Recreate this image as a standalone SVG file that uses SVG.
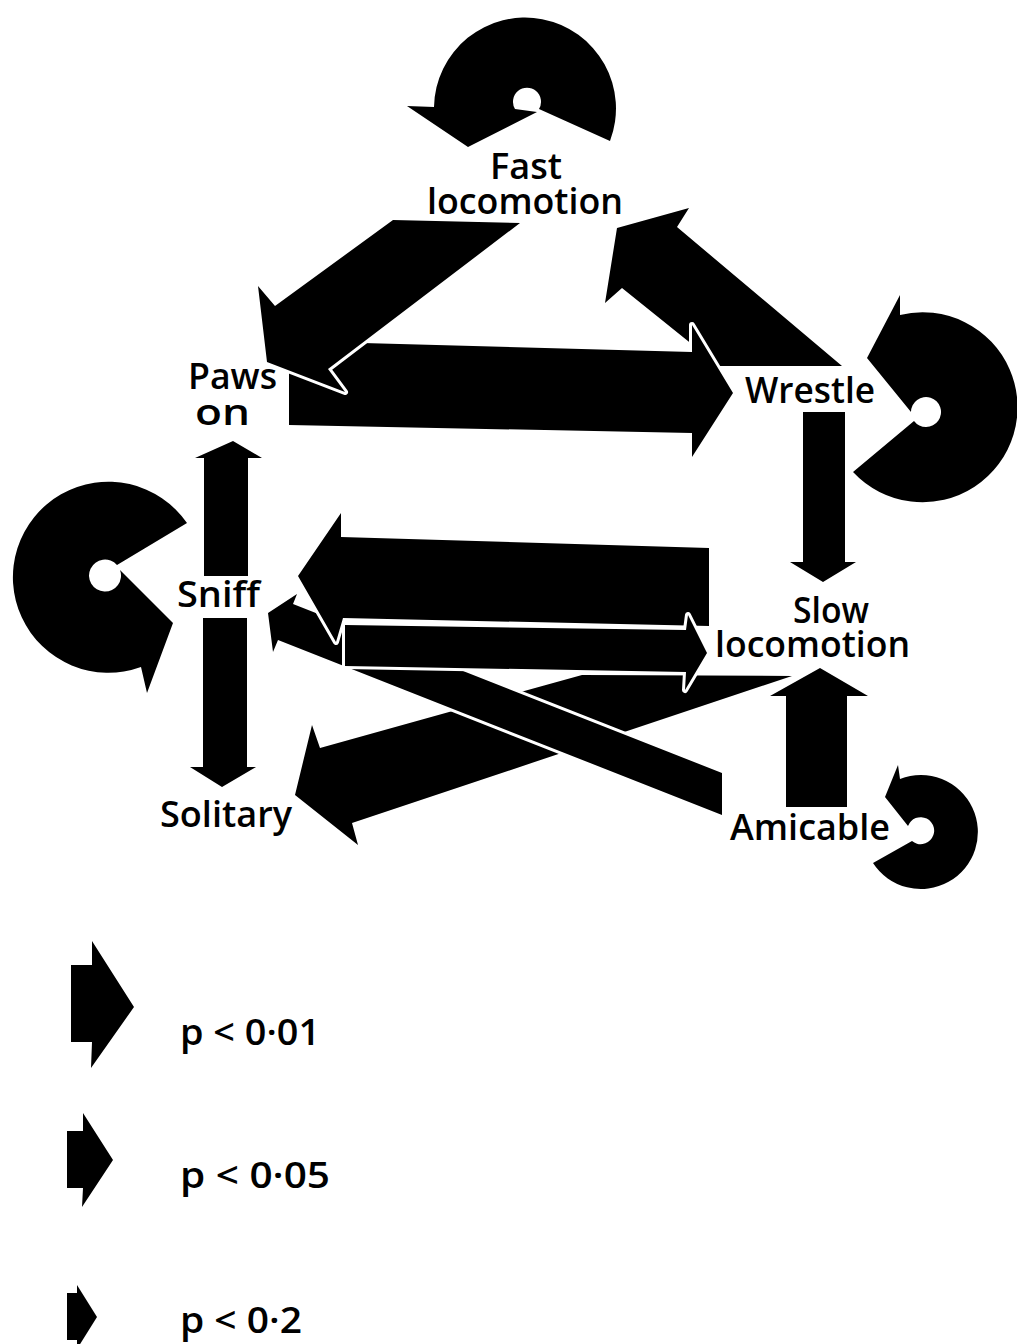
<svg xmlns="http://www.w3.org/2000/svg" width="1017" height="1344" viewBox="0 0 1017 1344">
<style>
.s{fill:#000}
.o{fill:#000;stroke:#fff;stroke-width:6;stroke-linejoin:round;paint-order:stroke}
text{font-family:"Open Sans","DejaVu Sans",sans-serif;font-size:36px;font-weight:600;fill:#000}
</style>
<rect width="1017" height="1344" fill="#fff"/>
<g id="connectors">
  <path id="wrestle-fast" class="s" d="M842,366 L677,227 L689,208 L617,228 L605,303 L622,288 L719,366 Z"/>
  <path id="paws-wrestle" class="o" d="M289,341 L692,352 L692,325 L733,393 L692,457 L692,433 L289,425 Z"/>
  <path id="fast-paws" class="o" d="M393,220 L520,223 L328,369 L345,392 L267,362 L258,286 L275,306 Z"/>
  <path id="sniff-paws" class="s" d="M204,576 L204,458 L195,458 L233,441 L262,458 L248,458 L248,576 Z"/>
  <path id="sniff-solitary" class="s" d="M203,618 L247,618 L247,767 L256,767 L222,787 L190,767 L203,767 Z"/>
  <path id="wrestle-slow" class="s" d="M803,412 L845,412 L845,562 L856,562 L823,582 L790,562 L803,562 Z"/>
  <path id="slow-solitary" class="s" d="M582,675 L792,676 L352,823 L358,845 L295,795 L312,725 L320,748 Z"/>
  <path id="amicable-slow" class="o" d="M786,807 L786,696 L770,696 L820,668 L868,696 L847,696 L847,807 Z"/>
  <path id="amicable-sniff" class="o" d="M268,613 L297,594 L293,604 L722,773 L722,815 L278,640 L273,652 Z"/>
  <path id="slow-sniff" class="o" d="M709,548 L709,626 L343,618 L336,642 L298,576 L341,513 L341,537 Z"/>
  <path id="sniff-slow" class="o" d="M345,625 L686,630 L688,615 L707,653 L685,690 L686,672 L345,666 Z"/>
</g>
<g id="fast-locomotion">
  <path class="s" d="M610,141 A91,91 0 1 0 434,107 L407,106 L468,147 L537,112 L515,109 A14,14 0 1 1 539,109 Z"/>
  <text x="490" y="179" textLength="72" lengthAdjust="spacingAndGlyphs">Fast</text>
  <text x="427" y="214" textLength="196" lengthAdjust="spacingAndGlyphs">locomotion</text>
</g>
<g id="paws-on">
  <text x="188" y="389" textLength="89" lengthAdjust="spacingAndGlyphs">Paws</text>
  <text x="195" y="425" textLength="55" lengthAdjust="spacingAndGlyphs">on</text>
</g>
<g id="wrestle">
  <path class="s" d="M853,472 A95,95 0 1 0 900,315 L900,295 L867,358 L911,412 A15,15 0 1 1 914,421 Z"/>
  <text x="745" y="403" textLength="130" lengthAdjust="spacingAndGlyphs">Wrestle</text>
</g>
<g id="sniff">
  <path class="s" d="M117,565 L187,523 A95.5,95.5 0 1 0 141,667 L147,693 L173,623 L120,570 A16,16 0 1 1 117,565 Z"/>
  <text x="177" y="607" textLength="83" lengthAdjust="spacingAndGlyphs">Sniff</text>
</g>
<g id="slow-locomotion">
  <text x="793" y="623" textLength="76" lengthAdjust="spacingAndGlyphs">Slow</text>
  <text x="715" y="657" textLength="195" lengthAdjust="spacingAndGlyphs">locomotion</text>
</g>
<g id="solitary">
  <text x="160" y="827" textLength="132" lengthAdjust="spacingAndGlyphs">Solitary</text>
</g>
<g id="amicable">
  <path class="s" d="M873,863 A57,57 0 1 0 900,779 L898,765 L885,797 L908,826 A13.5,13.5 0 1 1 912,841 Z"/>
  <text x="730" y="840" textLength="160" lengthAdjust="spacingAndGlyphs">Amicable</text>
</g>
<g id="legend">
  <path class="s" d="M71,965 L92,965 L92,941 L134,1007 L91,1068 L92,1042 L71,1042 Z"/>
  <text x="180" y="1045" textLength="140" lengthAdjust="spacingAndGlyphs">p &lt; 0·01</text>
  <path class="s" d="M67,1131 L83,1131 L83,1113 L113,1160 L82,1207 L83,1188 L67,1188 Z"/>
  <text x="180" y="1188" textLength="150" lengthAdjust="spacingAndGlyphs">p &lt; 0·05</text>
  <path class="s" d="M67,1293 L77,1293 L77,1285 L97,1317 L77,1349 L77,1340 L67,1340 Z"/>
  <text x="180" y="1333" textLength="122" lengthAdjust="spacingAndGlyphs">p &lt; 0·2</text>
</g>
</svg>
